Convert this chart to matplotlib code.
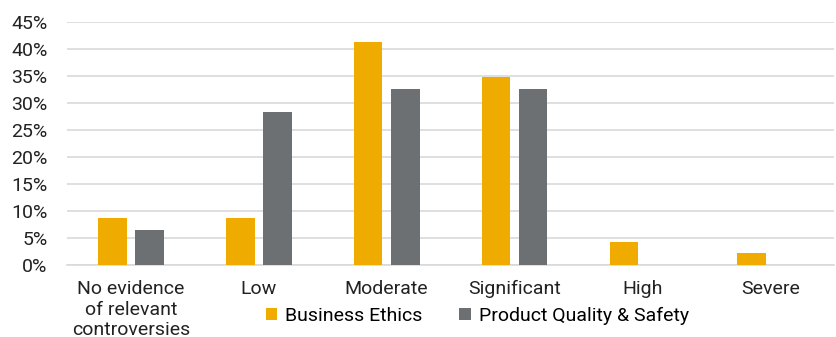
import numpy as np
import matplotlib
matplotlib.use("Agg")
import matplotlib.pyplot as plt

plt.rcParams["font.family"] = ["Roboto", "DejaVu Sans"]

categories = ["No evidence\nof relevant\ncontroversies", "Low", "Moderate", "Significant", "High", "Severe"]
business_ethics = [8.7, 8.7, 41.3, 34.8, 4.3, 2.2]
product_quality = [6.5, 28.3, 32.6, 32.6, 0, 0]
yticks = [0, 5, 10, 15, 20, 25, 30, 35, 40, 45]

ORANGE = "#F0AB00"
GRAY = "#6D7072"
FS = 14

fig = plt.figure(figsize=(8.36, 3.37), dpi=100)
ax = fig.add_axes([0.080, 0.2136, 0.918, 0.7211])

x = np.arange(len(categories))
w = 0.225
off = 0.145
ax.bar(x - off, business_ethics, w, color=ORANGE, label="Business Ethics", zorder=3)
ax.bar(x + off, product_quality, w, color=GRAY, label="Product Quality & Safety", zorder=3)

ax.set_xlim(-0.5, len(categories) - 0.5)
ax.set_ylim(0, 45)
ax.set_yticks(yticks)
ax.set_yticklabels([f"{v}%" for v in yticks], fontsize=FS, color="#222222")
ax.set_xticks(x)
ax.set_xticklabels(categories, fontsize=FS, color="#222222", linespacing=1.17)
ax.tick_params(axis="both", length=0)
ax.tick_params(axis="x", pad=11)
ax.tick_params(axis="y", pad=14)
ax.grid(axis="y", color="#D9D9D9", linewidth=1.2, zorder=0)
for s in ["top", "right", "left"]:
    ax.spines[s].set_visible(False)
ax.spines["bottom"].set_color("#D9D9D9")
ax.spines["bottom"].set_linewidth(1.2)

fig.legend(loc="center", bbox_to_anchor=(0.571, 0.062), ncol=2, frameon=False,
           fontsize=FS, handlelength=0.6, handleheight=0.6, handletextpad=0.4,
           columnspacing=1.9)

fig.savefig("out.png", dpi=100)
